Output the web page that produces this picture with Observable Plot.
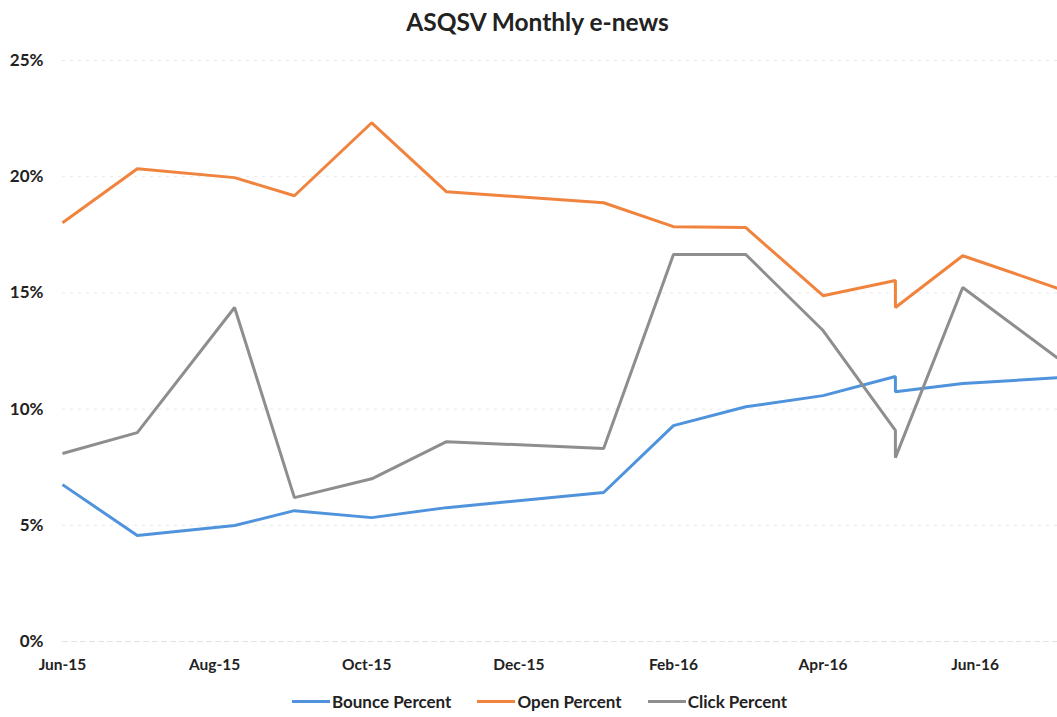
<!DOCTYPE html>
<html>
<head>
<meta charset="utf-8">
<script src="https://cdn.jsdelivr.net/npm/d3@7"></script>
<script src="https://cdn.jsdelivr.net/npm/@observablehq/plot@0.6"></script>
<style>
  html, body { margin: 0; padding: 0; background: #fff; }
  body { width: 1057px; height: 717px; overflow: hidden; font-family: Lato, "Liberation Sans", sans-serif; }
  #title { height: 40px; line-height: 44px; text-align: center; font-size: 24.5px; font-weight: bold; color: #222; padding-left: 18px; }
  #legend { height: 32px; display: flex; justify-content: center; align-items: center; gap: 26px; font-size: 17px; font-weight: bold; color: #222; padding-left: 22px; }
  .item { display: flex; align-items: center; }
  .swatch { width: 38px; height: 3px; margin-right: 2px; }
</style>
</head>
<body>
<div id="title">ASQSV Monthly e-news</div>
<div id="chart"></div>
<div id="legend"></div>
<script>
// Data
const dates = ["2015-06-01","2015-07-01","2015-08-09","2015-09-02","2015-10-03","2015-11-02","2016-01-04","2016-02-01","2016-03-01","2016-04-01","2016-04-30","2016-04-30","2016-05-27","2016-07-04"];
const bounce = [6.75, 4.56, 4.99, 5.63, 5.33, 5.76, 6.41, 9.29, 10.1, 10.58, 11.4, 10.75, 11.1, 11.35];
const open   = [18.02, 20.34, 19.96, 19.18, 22.32, 19.35, 18.88, 17.85, 17.81, 14.88, 15.53, 14.37, 16.6, 15.2];
const click  = [8.09, 8.99, 14.37, 6.19, 7.0, 8.6, 8.3, 16.65, 16.65, 13.38, 9.08, 7.91, 15.23, 12.2];
const seriesNames = ["Bounce Percent", "Open Percent", "Click Percent"];
const seriesColors = ["#4f93dc", "#f0843e", "#8e8e8e"];
const yTicks = [0, 5, 10, 15, 20, 25];
const xTicks = ["2015-06-01","2015-08-01","2015-10-01","2015-12-01","2016-02-01","2016-04-01","2016-06-01"];

const seriesValues = [bounce, open, click];
const rows = [];
seriesNames.forEach((name, si) => {
  dates.forEach((d, i) => rows.push({series: name, date: new Date(d), value: seriesValues[si][i], order: i}));
});

const chart = Plot.plot({
  width: 1057,
  height: 645,
  marginLeft: 62,
  marginRight: 0,
  marginTop: 20,
  marginBottom: 44,
  style: {fontFamily: "Lato, 'Liberation Sans', sans-serif", fontSize: "16px", fontWeight: "bold", color: "#222", background: "white", overflow: "visible"},
  x: {type: "utc", domain: [new Date(dates[0]), new Date(dates[dates.length - 1])], label: null},
  y: {domain: [0, 25], label: null},
  color: {domain: seriesNames, range: seriesColors},
  marks: [
    Plot.gridY(yTicks.slice(1), {stroke: "#e8e8e8", strokeOpacity: 1, strokeDasharray: "3,5"}),
    Plot.ruleY([0], {stroke: "#e2e2e2", strokeDasharray: "6,3"}),
    Plot.axisX({ticks: xTicks.map(d => new Date(d)), tickFormat: d3.utcFormat("%b-%y"), tickSize: 0, tickPadding: 17, fontSize: 15.5, fontWeight: "bold"}),
    Plot.axisY({ticks: yTicks, tickFormat: d => d + "%", tickSize: 0, tickPadding: 19, fontSize: 17, fontWeight: "bold"}),
    Plot.line(rows, {x: "date", y: "value", z: "series", stroke: "series", strokeWidth: 3, strokeLinejoin: "miter", strokeLinecap: "butt"})
  ]
});
document.getElementById("chart").appendChild(chart);

const legend = document.getElementById("legend");
seriesNames.forEach((name, i) => {
  const item = document.createElement("div");
  item.className = "item";
  const sw = document.createElement("span");
  sw.className = "swatch";
  sw.style.background = seriesColors[i];
  const label = document.createElement("span");
  label.textContent = name;
  item.appendChild(sw);
  item.appendChild(label);
  legend.appendChild(item);
});
</script>
</body>
</html>
